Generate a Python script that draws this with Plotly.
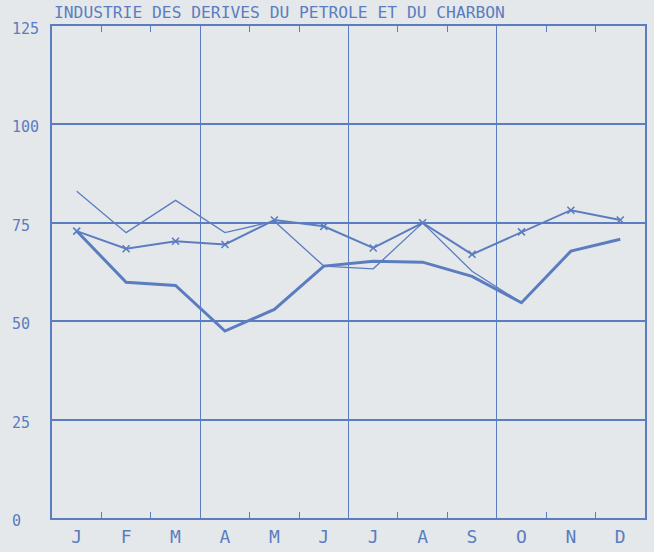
import plotly.graph_objects as go

months = ["J", "F", "M", "A", "M", "J", "J", "A", "S", "O", "N", "D"]
x_idx = list(range(12))

thin_series = [83.0, 72.5, 80.7, 72.5, 75.4, 64.0, 63.3, 75.0, 62.7, 54.7, None, None]
cross_series = [72.9, 68.4, 70.3, 69.5, 75.7, 74.1, 68.6, 75.0, 67.0, 72.7, 78.2, 75.7]
thick_series = [72.9, 59.9, 59.1, 47.5, 53.0, 64.0, 65.2, 65.0, 61.4, 54.7, 67.8, 70.8]

y_ticks = [0, 25, 50, 75, 100, 125]
y_labels = ["0", "25", "50", "75", "100", "125"]
month_bounds = [i + 0.5 for i in range(11)]
quarter_bounds = [2.5, 5.5, 8.5]

title_text = "INDUSTRIE DES DERIVES DU PETROLE ET DU CHARBON"

BLUE = "#5b7dc0"
BG = "#e5e8ea"
MONO = "DejaVu Sans Mono"

L, R, T, B = 52, 9, 26, 34
PW = 654 - L - R

fig = go.Figure()

fig.add_trace(go.Scatter(x=x_idx, y=thick_series, mode="lines",
                         line=dict(color=BLUE, width=3), hoverinfo="skip",
                         showlegend=False))
fig.add_trace(go.Scatter(x=x_idx, y=thin_series, mode="lines",
                         line=dict(color=BLUE, width=1.3), hoverinfo="skip",
                         showlegend=False))
fig.add_trace(go.Scatter(x=x_idx, y=cross_series, mode="lines+markers",
                         line=dict(color=BLUE, width=2),
                         marker=dict(symbol="x-thin", size=7,
                                     line=dict(color=BLUE, width=1.6)),
                         hoverinfo="skip", showlegend=False))
# invisible trace to carry the tick-mark axis
fig.add_trace(go.Scatter(x=x_idx, y=[None] * 12, xaxis="x2", mode="lines",
                         hoverinfo="skip", showlegend=False))

fig.update_layout(
    width=654, height=552,
    margin=dict(l=L, r=R, t=T, b=B, pad=0, autoexpand=False),
    paper_bgcolor=BG, plot_bgcolor=BG,
    title=dict(text=title_text, x=54 / 654, xref="container", xanchor="left",
               y=1 - 12.5 / 552, yref="container", yanchor="middle",
               font=dict(family=MONO, size=16.3, color=BLUE)),
    xaxis=dict(range=[-0.5, 11.5], tickmode="array", tickvals=x_idx,
               ticktext=months, ticks="", showgrid=False, zeroline=False,
               showline=True, linecolor=BLUE, linewidth=2, mirror=True,
               ticklabelstandoff=1, automargin=False,
               tickfont=dict(family=MONO, size=18, color=BLUE),
               minor=dict(tickmode="array", tickvals=quarter_bounds,
                          showgrid=True, gridcolor=BLUE, gridwidth=1,
                          ticks="")),
    xaxis2=dict(overlaying="x", matches="x", side="bottom", anchor="y",
                tickmode="array", tickvals=month_bounds, ticks="inside",
                ticklen=6, tickwidth=1.2, tickcolor=BLUE, mirror="ticks",
                showticklabels=False, showgrid=False, zeroline=False,
                showline=False, automargin=False),
    yaxis=dict(range=[0, 125], tickmode="array", tickvals=y_ticks,
               showticklabels=False, ticks="", showgrid=True,
               gridcolor=BLUE, gridwidth=2, zeroline=False, automargin=False,
               showline=True, linecolor=BLUE, linewidth=1.5, mirror=True),
)

for v, lab in zip(y_ticks, y_labels):
    fig.add_annotation(x=(12 - L) / PW, xref="paper", y=v, yref="y",
                       text=lab, showarrow=False, xanchor="left",
                       yanchor="middle", yshift=-3, xshift=-2,
                       font=dict(family=MONO, size=15, color=BLUE))

fig.write_html("out.html", config={"displayModeBar": False},
               post_script="document.body.style.margin='0';")
